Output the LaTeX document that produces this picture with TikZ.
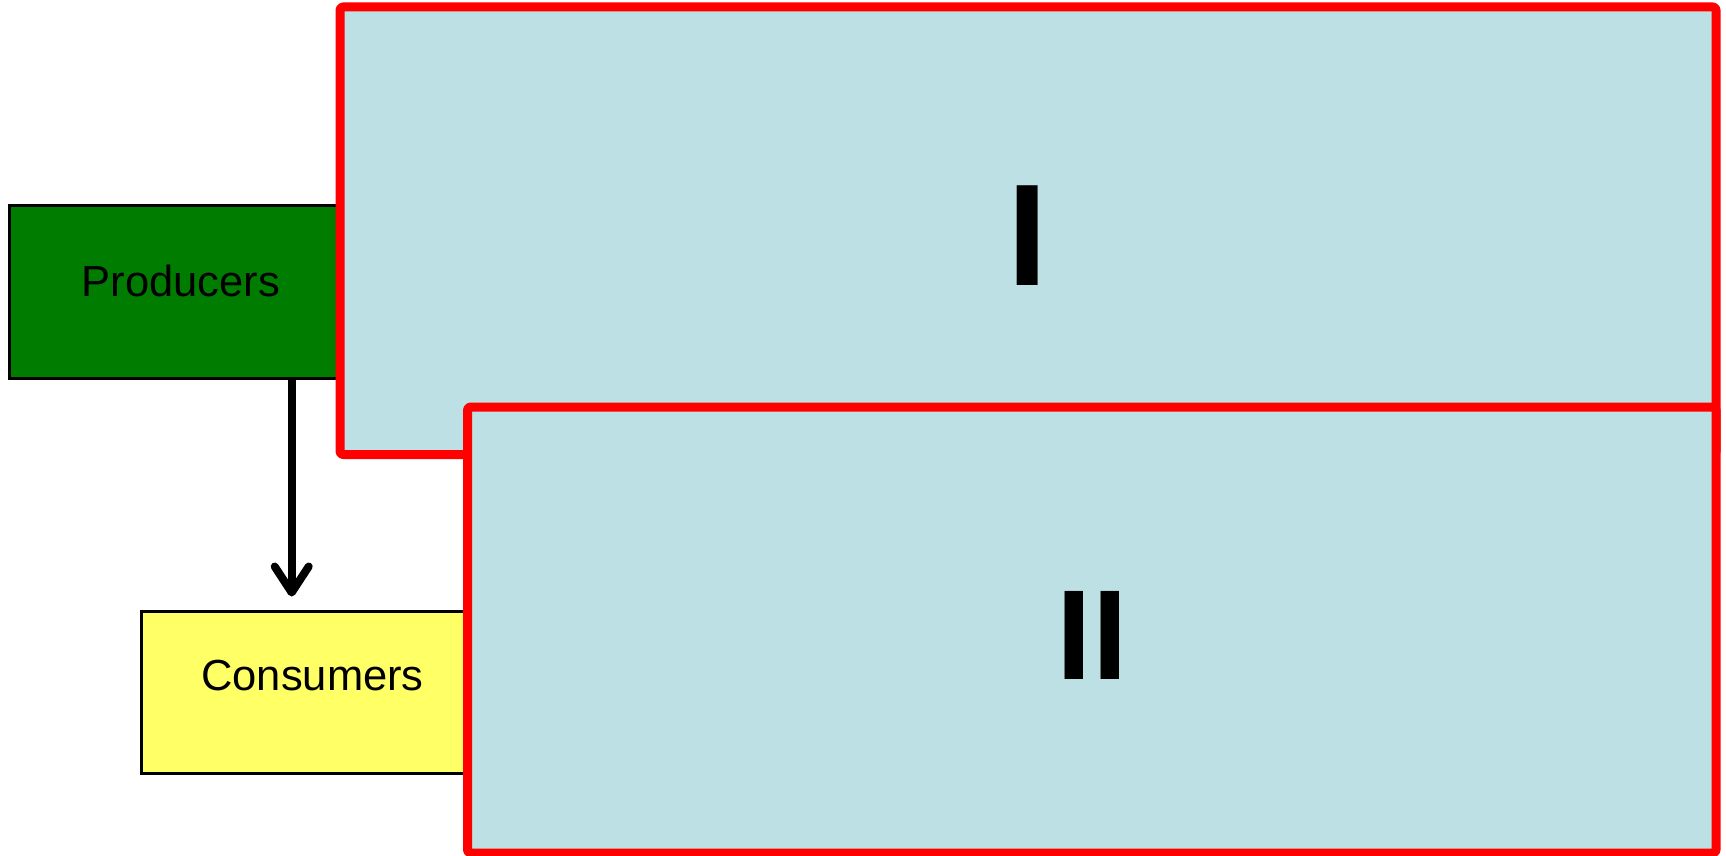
\documentclass[tikz,border=0pt]{standalone}
\usepackage{fontspec}
\setmainfont{Liberation Sans}
\usetikzlibrary{arrows.meta}
\definecolor{prodgreen}{RGB}{0,125,0}
\definecolor{consyellow}{RGB}{255,255,102}
\definecolor{panelblue}{RGB}{188,224,227}
\definecolor{panelred}{RGB}{255,0,0}
\tikzset{
  smallbox/.style={draw=black, line width=3pt, rectangle, inner sep=0pt},
  panel/.style={draw=panelred, fill=panelblue, line width=9pt, rounded corners=3pt, line join=round},
  boxlabel/.style={anchor=base, inner sep=0pt, font=\fontsize{43.5}{50}\selectfont},
  panellabel/.style={anchor=base, inner sep=0pt},
  flow/.style={line width=8pt, -{Straight Barb[length=26pt,width=34pt,round]}}
}
\begin{document}
\begin{tikzpicture}[x=1pt,y=-1pt]
\useasboundingbox (0,0) rectangle (1726,856);
\fill[white] (0,0) rectangle (1726,856);
% producers and consumers
\node[smallbox, fill=prodgreen, minimum width=343pt, minimum height=173pt] (prod) at (181,291.5) {};
\node[boxlabel] (prodtxt) at (181,296) {Producers};
\node[smallbox, fill=consyellow, minimum width=343pt, minimum height=162pt] (cons) at (312.5,692) {};
\node[boxlabel] (constxt) at (312.5,690) {Consumers};
\coordinate (ax) at (291.7,0);
\draw[flow, shorten <=-3pt, shorten >=13pt] (prod.south -| ax) -- (cons.north -| ax);
% panels
\draw[panel] (340,7) rectangle (1716,454.5);
\node[panellabel, font=\fontsize{145}{150}\selectfont\bfseries] (one) at (1028,285) {I};
\draw[panel] (467.5,407) rectangle (1716,853);
\node[panellabel, font=\fontsize{128}{135}\selectfont\bfseries] (two) at (1092,679) {II};
\end{tikzpicture}
\end{document}
